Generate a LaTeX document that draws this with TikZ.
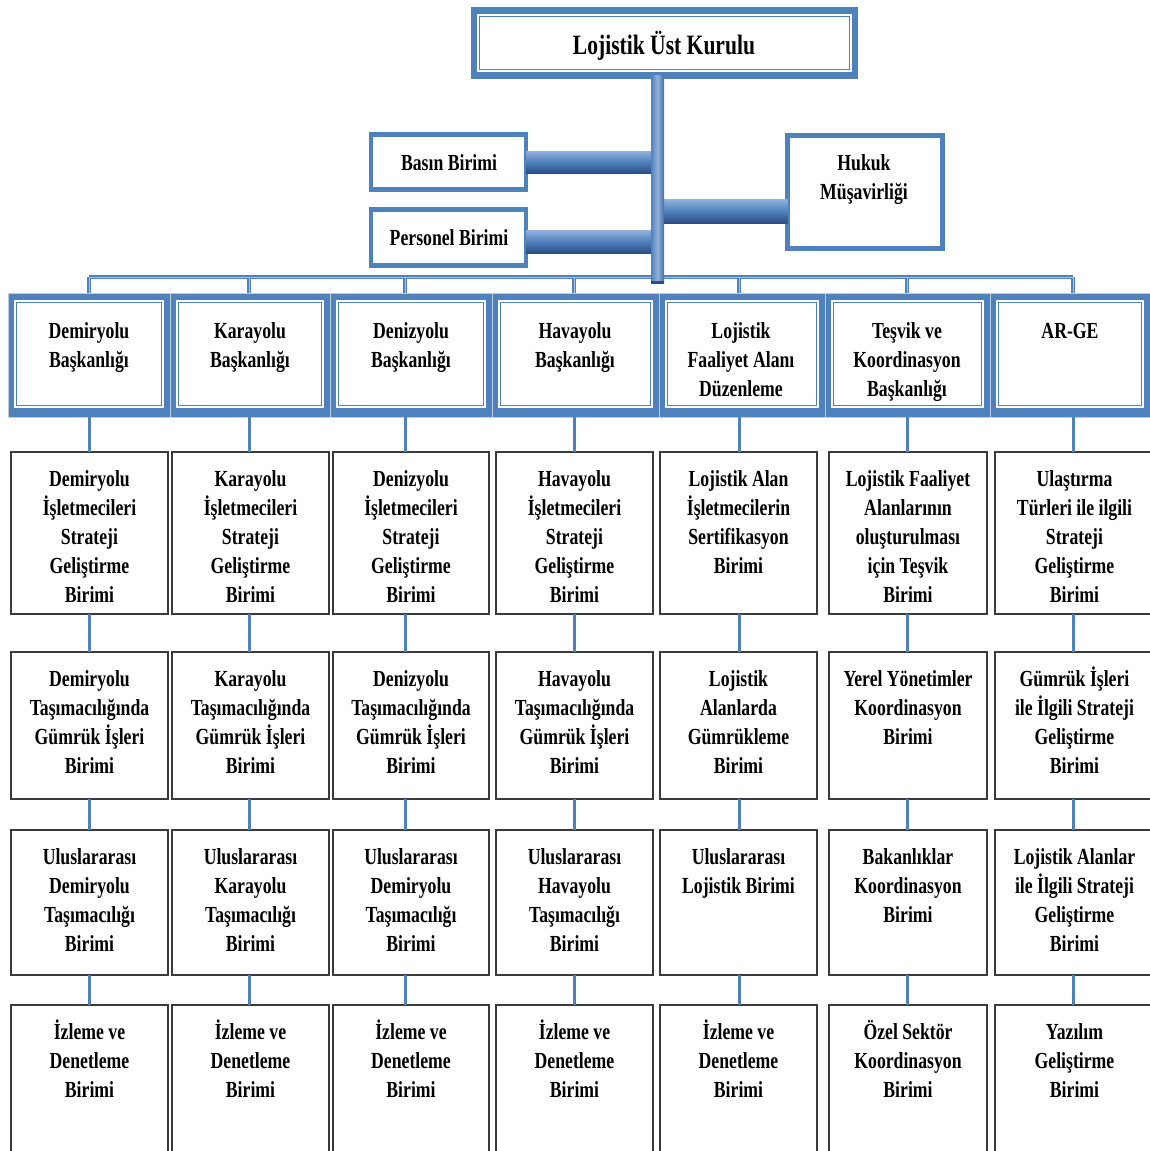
\documentclass[tikz,border=0pt]{standalone}
\usepackage{fontspec}
\setmainfont{Liberation Serif}[FakeStretch=0.77]
\definecolor{orgblue}{HTML}{4F81BD}
\definecolor{boxgray}{HTML}{3A3A3A}
\definecolor{barlight}{HTML}{93B2DC}
\definecolor{bardark}{HTML}{2C4E80}
\definecolor{buslight}{HTML}{A9C1E3}

% lower unit box: name, left, right, top, bottom, label
\newcommand\orgbox[6]{%
  \node[lowbox, minimum width={#3-#2}, minimum height={#5-#4}] (#1) at (#2,#4) {};
  \node[txt] (#1t) at ({(#2+#3)/2},{#4+13.7}) {\strut #6};
}
% department header cell: name, left, right, text x, label
\newcommand\orghead[5]{%
  \node[headcell, minimum width={#3-#2}] (#1) at (#2,293) {};
  \fill[white] ({#2+6},300) rectangle ({#3-6},408);
  \draw[orgblue, line width=1pt] ({#2+8.5},302.5) rectangle ({#3-8.5},405.5);
  \node[txt] (#1t) at (#4,317.7) {\strut #5};
}

\begin{document}
\begin{tikzpicture}[x=1pt, y=-1pt,
  txt/.style={align=center, inner sep=0pt, anchor=north,
    font=\fontsize{23}{29}\selectfont\bfseries},
  lowbox/.style={draw=boxgray, line width=1.8pt, fill=white, inner sep=0pt,
    outer sep=0pt, anchor=north west},
  headcell/.style={fill=orgblue, draw=orgblue!40!white, line width=0.8pt,
    minimum height=124, inner sep=0pt, outer sep=0pt, anchor=north west},
  sidebox/.style={draw=orgblue, line width=4.5pt, fill=white, inner sep=0pt,
    outer sep=0pt, anchor=north west},
  conn/.style={draw=orgblue, line width=3pt},
  busout/.style={draw=orgblue, line width=4.2pt},
  busin/.style={draw=buslight, line width=1pt},
]
\useasboundingbox (0,0) rectangle (1150,1151);
\clip (0,0) rectangle (1150,1151);
\fill[white] (0,0) rectangle (1150,1151);

% column axes
\coordinate (a1) at (89,0);
\coordinate (a2) at (249,0);
\coordinate (a3) at (405,0);
\coordinate (a4) at (574,0);
\coordinate (a5) at (739,0);
\coordinate (a6) at (907,0);
\coordinate (a7) at (1073,0);

% top board
\node[fill=orgblue, minimum width=387, minimum height=72, inner sep=0pt,
  outer sep=0pt, anchor=north west] (top) at (471,7) {};
\fill[white] (477,14) rectangle (852,72);
\draw[orgblue, line width=1pt] (479.5,16.5) rectangle (849.5,69.5);
\node[txt, font=\fontsize{28}{33}\selectfont\bfseries] (topt) at (664,31) {\strut Lojistik Üst Kurulu};

% staff units
\node[sidebox, minimum width=155, minimum height=55] (basin) at (371,134.5) {};
\node[txt] (basint) at (449,149.7) {\strut Basın Birimi};
\node[sidebox, minimum width=155, minimum height=56] (personel) at (371,209.5) {};
\node[txt] (personelt) at (449,224.7) {\strut Personel Birimi};
\node[sidebox, minimum width=155, minimum height=113] (hukuk) at (787.5,135.5) {};
\node[txt] (hukukt) at (864,149.7) {\strut Hukuk\\Müşavirliği};

% distribution bus to the departments
\coordinate (busL) at (89,277);
\coordinate (busR) at (1073,277);
\draw[busout] (busL) -- (busR);
\foreach \i in {1,...,7}{\draw[busout] (a\i |- busL) -- ++(0,17);}
\draw[busin] (busL) -- (busR);
\foreach \i in {1,...,7}{\draw[busin] (a\i |- busL) -- ++(0,17);}

% trunk and branch bars
\shade[top color=barlight, bottom color=bardark, middle color=orgblue]
  (basin.east |- 0,151) rectangle (651,173);
\shade[top color=barlight, bottom color=bardark, middle color=orgblue]
  (personel.east |- 0,230) rectangle (655,253);
\shade[top color=barlight, bottom color=bardark, middle color=orgblue]
  (664,199) rectangle (hukuk.west |- 0,223);
\shade[left color=orgblue, right color=orgblue!85!black, middle color=barlight]
  (651,75) rectangle (664,283);
\fill[bardark] (651,281) rectangle (664,284);

% department headers
\orghead{h1}{8}{170}{89}{Demiryolu\\Başkanlığı}
\orghead{h2}{170}{330}{250}{Karayolu\\Başkanlığı}
\orghead{h3}{330}{492}{411}{Denizyolu\\Başkanlığı}
\orghead{h4}{492}{659}{575}{Havayolu\\Başkanlığı}
\orghead{h5}{659}{825}{741}{Lojistik\\Faaliyet Alanı\\Düzenleme}
\orghead{h6}{825}{990}{907}{Teşvik ve\\Koordinasyon\\Başkanlığı}
\orghead{h7}{990}{1150}{1070}{AR-GE}

% first unit row
\orgbox{pA1}{11}{168}{452}{614}{Demiryolu\\İşletmecileri\\Strateji\\Geliştirme\\Birimi}
\orgbox{pA2}{172}{329}{452}{614}{Karayolu\\İşletmecileri\\Strateji\\Geliştirme\\Birimi}
\orgbox{pA3}{333}{489}{452}{614}{Denizyolu\\İşletmecileri\\Strateji\\Geliştirme\\Birimi}
\orgbox{pA4}{496}{653}{452}{614}{Havayolu\\İşletmecileri\\Strateji\\Geliştirme\\Birimi}
\orgbox{pA5}{660}{817}{452}{614}{Lojistik Alan\\İşletmecilerin\\Sertifikasyon\\Birimi}
\orgbox{pA6}{829}{987}{452}{614}{Lojistik Faaliyet\\Alanlarının\\oluşturulması\\için Teşvik\\Birimi}
\orgbox{pA7}{995}{1154}{452}{614}{Ulaştırma\\Türleri ile ilgili\\Strateji\\Geliştirme\\Birimi}

% second unit row
\orgbox{pB1}{11}{168}{652}{799}{Demiryolu\\Taşımacılığında\\Gümrük İşleri\\Birimi}
\orgbox{pB2}{172}{329}{652}{799}{Karayolu\\Taşımacılığında\\Gümrük İşleri\\Birimi}
\orgbox{pB3}{333}{489}{652}{799}{Denizyolu\\Taşımacılığında\\Gümrük İşleri\\Birimi}
\orgbox{pB4}{496}{653}{652}{799}{Havayolu\\Taşımacılığında\\Gümrük İşleri\\Birimi}
\orgbox{pB5}{660}{817}{652}{799}{Lojistik\\Alanlarda\\Gümrükleme\\Birimi}
\orgbox{pB6}{829}{987}{652}{799}{Yerel Yönetimler\\Koordinasyon\\Birimi}
\orgbox{pB7}{995}{1154}{652}{799}{Gümrük İşleri\\ile İlgili Strateji\\Geliştirme\\Birimi}

% third unit row
\orgbox{pC1}{11}{168}{830}{975}{Uluslararası\\Demiryolu\\Taşımacılığı\\Birimi}
\orgbox{pC2}{172}{329}{830}{975}{Uluslararası\\Karayolu\\Taşımacılığı\\Birimi}
\orgbox{pC3}{333}{489}{830}{975}{Uluslararası\\Demiryolu\\Taşımacılığı\\Birimi}
\orgbox{pC4}{496}{653}{830}{975}{Uluslararası\\Havayolu\\Taşımacılığı\\Birimi}
\orgbox{pC5}{660}{817}{830}{975}{Uluslararası\\Lojistik Birimi}
\orgbox{pC6}{829}{987}{830}{975}{Bakanlıklar\\Koordinasyon\\Birimi}
\orgbox{pC7}{995}{1154}{830}{975}{Lojistik Alanlar\\ile İlgili Strateji\\Geliştirme\\Birimi}

% fourth unit row
\orgbox{pD1}{11}{168}{1005}{1165}{İzleme ve\\Denetleme\\Birimi}
\orgbox{pD2}{172}{329}{1005}{1165}{İzleme ve\\Denetleme\\Birimi}
\orgbox{pD3}{333}{489}{1005}{1165}{İzleme ve\\Denetleme\\Birimi}
\orgbox{pD4}{496}{653}{1005}{1165}{İzleme ve\\Denetleme\\Birimi}
\orgbox{pD5}{660}{817}{1005}{1165}{İzleme ve\\Denetleme\\Birimi}
\orgbox{pD6}{829}{987}{1005}{1165}{Özel Sektör\\Koordinasyon\\Birimi}
\orgbox{pD7}{995}{1154}{1005}{1165}{Yazılım\\Geliştirme\\Birimi}

% vertical links down each column
\foreach \i in {1,...,7}{
  \draw[conn] (a\i |- h\i.south) -- (a\i |- pA\i.north);
  \draw[conn] (a\i |- pA\i.south) -- (a\i |- pB\i.north);
  \draw[conn] (a\i |- pB\i.south) -- (a\i |- pC\i.north);
  \draw[conn] (a\i |- pC\i.south) -- (a\i |- pD\i.north);
}
\end{tikzpicture}
\end{document}
